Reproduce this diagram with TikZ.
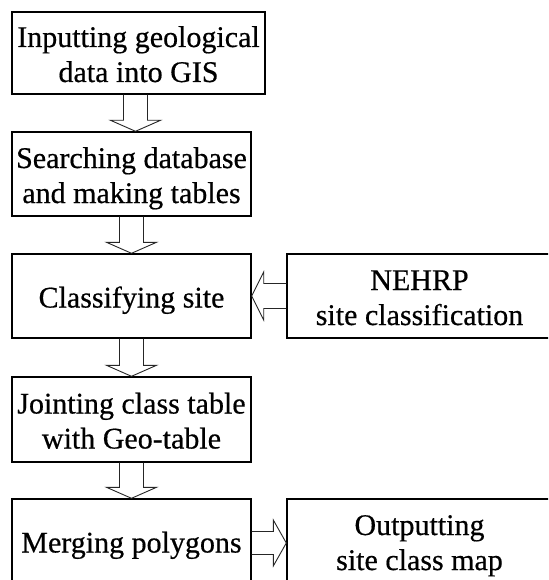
\documentclass[tikz,border=0pt]{standalone}
\usepackage{fontspec}
\setmainfont{Liberation Serif}[FakeBold=0.5]
\usetikzlibrary{calc}
\newcommand\ftop{\rule{0pt}{30pt}}
\newcommand\fbot{\rule[-7pt]{0pt}{7pt}}
% #1 upper box, #2 lower box, #3 horizontal offset of the arrow axis
\newcommand\vblock[3]{%
  \draw[blockarrow] ($(#2.north |- #1.south)+(#3-12,0)$) -- ($(#2.north)+(#3-12,-11)$)
    -- ($(#2.north)+(#3-25,-11)$) -- ($(#2.north)+(#3,0)$) -- ($(#2.north)+(#3+25,-11)$)
    -- ($(#2.north)+(#3+12,-11)$) -- ($(#2.north |- #1.south)+(#3+12,0)$);}
\begin{document}
\begin{tikzpicture}[x=1pt,y=-1pt,
  box/.style={draw=black,line width=1.4pt,inner sep=0pt,align=center,
    font=\fontsize{30}{35}\selectfont},
  blockarrow/.style={draw=black!85,line width=0.9pt,line join=miter}]
\useasboundingbox (0,0) rectangle (548,580);
\fill[white] (0,0) rectangle (548,580);
\clip (0,0) rectangle (548,580);

\node[box,minimum width=253pt,minimum height=82pt] (b1) at (138.5,53)
  {\ftop Inputting geological\\data into GIS\fbot};
\node[box,minimum width=239pt,minimum height=84pt] (b2) at (131.5,174)
  {\ftop Searching database\\and making tables\fbot};
\node[box,minimum width=239pt,minimum height=84pt] (b3) at (131.5,296)
  {\ftop Classifying site\fbot};
\node[box,minimum width=265pt,minimum height=84pt] (n) at (419.5,296)
  {\ftop NEHRP\\site classification\fbot};
\node[box,minimum width=239pt,minimum height=85pt] (b4) at (131.5,419.5)
  {\ftop Jointing class table\\with Geo-table\fbot};
\node[box,minimum width=239pt,minimum height=84pt] (b5) at (131.5,541)
  {\ftop Merging polygons\fbot};
\node[box,minimum width=265pt,minimum height=84pt] (o) at (419.5,541)
  {\ftop Outputting\\site class map\fbot};

\vblock{b1}{b2}{4}
\vblock{b2}{b3}{0}
\vblock{b3}{b4}{0}
\vblock{b4}{b5}{0}

\draw[blockarrow] ($(n.west)+(0,-12.5)$) -- ($(b3.east)+(12,-12.5)$)
  -- ($(b3.east)+(12,-24)$) -- (b3.east) -- ($(b3.east)+(12,24)$)
  -- ($(b3.east)+(12,12.5)$) -- ($(n.west)+(0,12.5)$);
\draw[blockarrow] ($(b5.east)+(0,-9.5)$) -- ($(o.west)+(-13,-9.5)$)
  -- ($(o.west)+(-13,-21)$) -- ($(o.west)+(0,2)$) -- ($(o.west)+(-13,25)$)
  -- ($(o.west)+(-13,13.5)$) -- ($(b5.east)+(0,13.5)$);
\end{tikzpicture}
\end{document}
